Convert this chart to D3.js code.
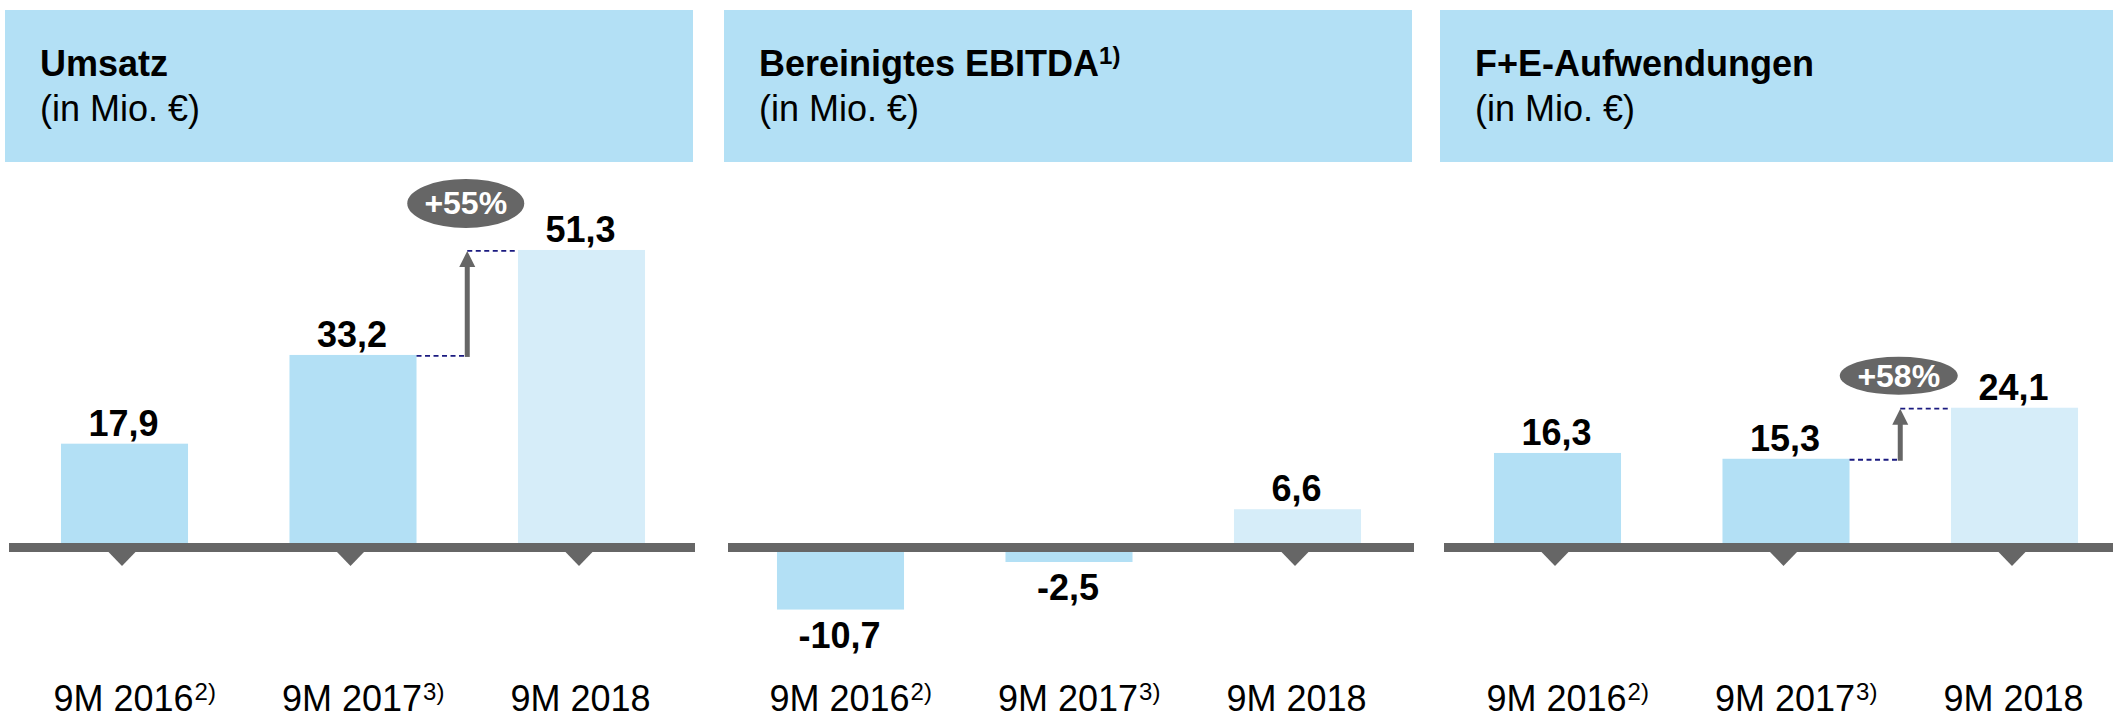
<!DOCTYPE html>
<html>
<head>
<meta charset="utf-8">
<script src="https://cdn.jsdelivr.net/npm/d3@7"></script>
<style>
  html, body { margin: 0; padding: 0; background: #ffffff; }
  svg { display: block; }
  text { font-family: "Liberation Sans", Arial, Helvetica, sans-serif; }
</style>
</head>
<body>
<svg id="chart" width="2113" height="713"></svg>
<script>
// ---------- data ----------
const categories     = ["9M 2016", "9M 2017", "9M 2018"];
const categoryNotes  = ["2)", "3)", ""];
const panelTitles    = ["Umsatz", "Bereinigtes EBITDA", "F+E-Aufwendungen"];
const titleNotes     = ["", "1)", ""];
const unitLabel      = "(in Mio. €)";
const umsatzValues   = [17.9, 33.2, 51.3];
const ebitdaValues   = [-10.7, -2.5, 6.6];
const fueValues      = [16.3, 15.3, 24.1];
const growthLabels   = ["+55%", null, "+58%"];
const valueDomain    = [-20, 60];

const panelValues = [umsatzValues, ebitdaValues, fueValues];

// ---------- layout / style ----------
const W = 2113, H = 713;
const headerX = [5, 724, 1440];
const barOrigin = [7, 723, 1440];
const headerW = 688, headerTop = 10, headerBottom = 162;
const colHeader = "#b3e0f5", colBar = "#b3e0f5", colBarLast = "#d6edf9";
const colGrey = "#666666", colDash = "#1a1a80";
const ellipseStyle = [{dy: 46.5, rx: 58.5, ry: 24.5}, null, {dy: 32, rx: 59, ry: 19}];

const locale = d3.formatLocale({decimal: ",", thousands: ".", grouping: [3], currency: ["", "€"], minus: "-"});
const fmt = locale.format(".1f");

const svg = d3.select("#chart");
svg.append("rect").attr("width", W).attr("height", H).attr("fill", "#fff");

// shared value scale
const y = d3.scaleLinear().domain(valueDomain).range([547.5 + 20 * 5.8, 547.5 - 60 * 5.8]);
const axisTop = 543, axisH = 9;

panelValues.forEach((vals, p) => {
  const g = svg.append("g");
  const hx = headerX[p];
  const ox = barOrigin[p];

  // header box
  g.append("rect").attr("x", hx).attr("y", headerTop)
    .attr("width", headerW).attr("height", headerBottom - headerTop)
    .attr("fill", colHeader);
  const t = g.append("text").attr("x", hx + 35).attr("y", 76)
    .attr("font-size", 36).attr("font-weight", "bold").attr("fill", "#000")
    .text(panelTitles[p]);
  if (titleNotes[p]) {
    t.append("tspan").attr("font-size", 24).attr("dy", -12).text(titleNotes[p]);
  }
  g.append("text").attr("x", hx + 35).attr("y", 121)
    .attr("font-size", 36).attr("fill", "#000").text(unitLabel);

  // band scale
  const x = d3.scaleBand().domain(categories)
    .range([ox + 3.25, ox + 688.75]).paddingInner(0.444).paddingOuter(0.222);
  const bw = x.bandwidth();
  const cx = c => x(c) + bw / 2;

  // bars
  g.selectAll("rect.bar").data(categories).join("rect")
    .attr("class", "bar")
    .attr("x", c => x(c))
    .attr("width", bw)
    .attr("y", (c, i) => Math.min(y(vals[i]), y(0)))
    .attr("height", (c, i) => Math.abs(y(vals[i]) - y(0)))
    .attr("fill", (c, i) => i === categories.length - 1 ? colBarLast : colBar);

  // axis bar
  g.append("rect").attr("x", hx + 4).attr("y", axisTop)
    .attr("width", headerW - 2).attr("height", axisH).attr("fill", colGrey);

  // tick triangles (only under non-negative bars)
  categories.forEach((c, i) => {
    if (vals[i] < 0) return;
    const tx = cx(c) - 2.5;
    g.append("path")
      .attr("d", `M${tx - 13.5},${axisTop + axisH} L${tx + 13.5},${axisTop + axisH} L${tx},${axisTop + axisH + 14} Z`)
      .attr("fill", colGrey);
  });

  // value labels
  categories.forEach((c, i) => {
    const v = vals[i];
    g.append("text")
      .attr("x", cx(c) - 1)
      .attr("y", v >= 0 ? y(v) - 8 : y(v) + 38)
      .attr("text-anchor", "middle")
      .attr("font-size", 36).attr("font-weight", "bold").attr("fill", "#000")
      .text(fmt(v));
  });

  // category labels
  categories.forEach((c, i) => {
    const lab = g.append("text")
      .attr("x", cx(c) - 1).attr("y", 711)
      .attr("text-anchor", "middle").attr("font-size", 36).attr("fill", "#000")
      .text(c);
    if (categoryNotes[i]) {
      const w = lab.node().getComputedTextLength();
      g.append("text").attr("x", cx(c) - 1 + w / 2 + 1).attr("y", 700)
        .attr("font-size", 24).attr("fill", "#000").text(categoryNotes[i]);
    }
  });

  // growth annotation
  if (growthLabels[p]) {
    const a = categories[1], b = categories[2];
    const xl = x(a) + bw, xr = x(b);
    const ax = (xl + xr) / 2;
    const y1 = y(vals[1]) + 1, y2 = y(vals[2]) + 1;
    g.append("line").attr("x1", xl).attr("x2", ax).attr("y1", y1).attr("y2", y1)
      .attr("stroke", colDash).attr("stroke-width", 1.8).attr("stroke-dasharray", "5,3.5");
    g.append("line").attr("x1", ax).attr("x2", xr).attr("y1", y2).attr("y2", y2)
      .attr("stroke", colDash).attr("stroke-width", 1.8).attr("stroke-dasharray", "5,3.5");
    g.append("line").attr("x1", ax).attr("x2", ax).attr("y1", y1 + 1).attr("y2", y2 + 14)
      .attr("stroke", colGrey).attr("stroke-width", 5);
    g.append("path")
      .attr("d", `M${ax - 8},${y2 + 16} L${ax + 8},${y2 + 16} L${ax},${y2} Z`)
      .attr("fill", colGrey);
    const es = ellipseStyle[p];
    const ecy = y(vals[2]) - es.dy;
    g.append("ellipse").attr("cx", ax - 1.5).attr("cy", ecy)
      .attr("rx", es.rx).attr("ry", es.ry).attr("fill", colGrey);
    g.append("text").attr("x", ax - 1.5).attr("y", ecy + 11)
      .attr("text-anchor", "middle").attr("font-size", 32).attr("font-weight", "bold")
      .attr("fill", "#fff").text(growthLabels[p]);
  }
});
</script>
</body>
</html>
